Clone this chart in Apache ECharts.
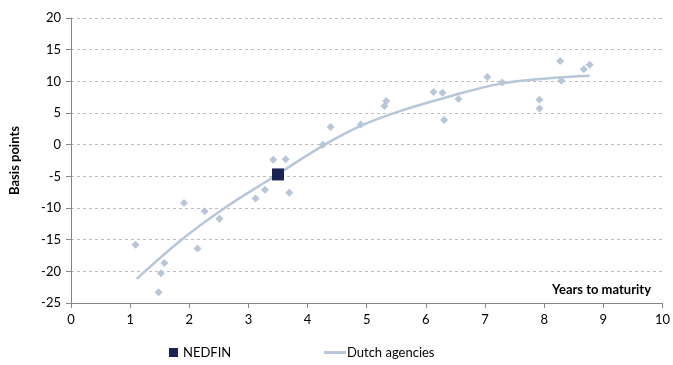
<!DOCTYPE html>
<html>
<head>
<meta charset="utf-8">
<script src="https://cdn.jsdelivr.net/npm/echarts@6/dist/echarts.min.js"></script>
<style>
  html, body { margin: 0; padding: 0; background: #fff; }
  #chart { width: 673px; height: 365px; }
</style>
</head>
<body>
<div id="chart"></div>
<script>
// Dutch agencies spreads (years to maturity, basis points)
var agencyYears = [1.09, 1.48, 1.52, 1.58, 1.91, 2.14, 2.26, 2.51, 3.12, 3.28, 3.42, 3.63, 3.69, 4.26, 4.39, 4.90,
  5.30, 5.33, 6.13, 6.28, 6.31, 6.55, 7.04, 7.29, 7.92, 7.92, 8.27, 8.29, 8.67, 8.77];
var agencySpread = [-15.8, -23.3, -20.3, -18.7, -9.2, -16.4, -10.5, -11.7, -8.5, -7.1, -2.4, -2.3, -7.6, 0.0, 2.8, 3.2,
  6.1, 6.9, 8.3, 8.2, 3.9, 7.2, 10.7, 9.8, 7.1, 5.7, 13.2, 10.1, 11.9, 12.6];

// fitted curve for the agencies
var trendYears = [1.11, 1.87, 2.60, 3.39, 4.29, 4.88, 5.56, 6.40, 7.25, 8.09, 8.77];
var trendSpread = [-21.2, -15.0, -10.0, -5.3, 0.0, 2.9, 5.3, 7.6, 9.6, 10.5, 10.9];

// NEDFIN
var nedfinYears = [3.50];
var nedfinSpread = [-4.7];

var chart = echarts.init(document.getElementById('chart'));

function pairs(xs, ys) {
  var arr = [];
  for (var i = 0; i < xs.length; i++) {
    arr.push([xs[i], ys[i]]);
  }
  return arr;
}

var font = 'Lato';
var lightBlue = '#b7c6d9';
var navy = '#1b2456';

var option = {
  animation: false,
  textStyle: { fontFamily: font },
  grid: { left: 71, right: 10, top: 18, bottom: 62 },
  legend: [
    {
      bottom: 1,
      left: 164,
      itemGap: 8,
      textStyle: { fontFamily: font, fontSize: 13, color: '#000' },
      data: [{ name: 'NEDFIN', icon: 'rect' }],
      itemWidth: 9,
      itemHeight: 9
    },
    {
      bottom: 1,
      left: 319,
      textStyle: { fontFamily: font, fontSize: 13, color: '#000', padding: [0, 0, 0, -4] },
      data: [{ name: 'Dutch agencies', icon: 'rect' }],
      itemWidth: 22,
      itemHeight: 3
    }
  ],
  xAxis: {
    type: 'value',
    min: 0,
    max: 10,
    interval: 1,
    axisLine: { onZero: false, lineStyle: { color: '#868686' } },
    axisTick: { show: true, length: 5, lineStyle: { color: '#868686' } },
    axisLabel: { color: '#000', fontSize: 13, margin: 10, fontFamily: font },
    splitLine: { show: false }
  },
  yAxis: {
    type: 'value',
    min: -25,
    max: 20,
    interval: 5,
    name: 'Basis points',
    nameLocation: 'middle',
    nameGap: 50,
    nameRotate: 90,
    nameTextStyle: { fontWeight: 'bold', fontSize: 13, color: '#000', fontFamily: font },
    axisLine: { show: true, lineStyle: { color: '#868686' } },
    axisTick: { show: true, length: 5, lineStyle: { color: '#868686' } },
    axisLabel: { color: '#000', fontSize: 13, margin: 10, fontFamily: font },
    splitLine: { show: true, lineStyle: { color: '#bdbdbd', type: [3, 3] } }
  },
  graphic: [
    {
      type: 'text',
      right: 22,
      top: 283,
      style: { text: 'Years to maturity', font: 'bold 13px ' + font, fill: '#000' }
    }
  ],
  series: [
    {
      name: 'Dutch agencies',
      type: 'line',
      smooth: 0.4,
      symbol: 'none',
      data: pairs(trendYears, trendSpread),
      lineStyle: { color: lightBlue, width: 2.5 },
      itemStyle: { color: lightBlue },
      z: 2
    },
    {
      name: 'Dutch agencies pts',
      type: 'scatter',
      symbol: 'diamond',
      symbolSize: 8,
      data: pairs(agencyYears, agencySpread),
      itemStyle: { color: lightBlue, opacity: 1 },
      z: 3
    },
    {
      name: 'NEDFIN',
      type: 'scatter',
      symbol: 'rect',
      symbolSize: 12,
      data: pairs(nedfinYears, nedfinSpread),
      itemStyle: { color: navy, opacity: 1 },
      z: 4
    }
  ]
};

chart.setOption(option);
</script>
</body>
</html>
